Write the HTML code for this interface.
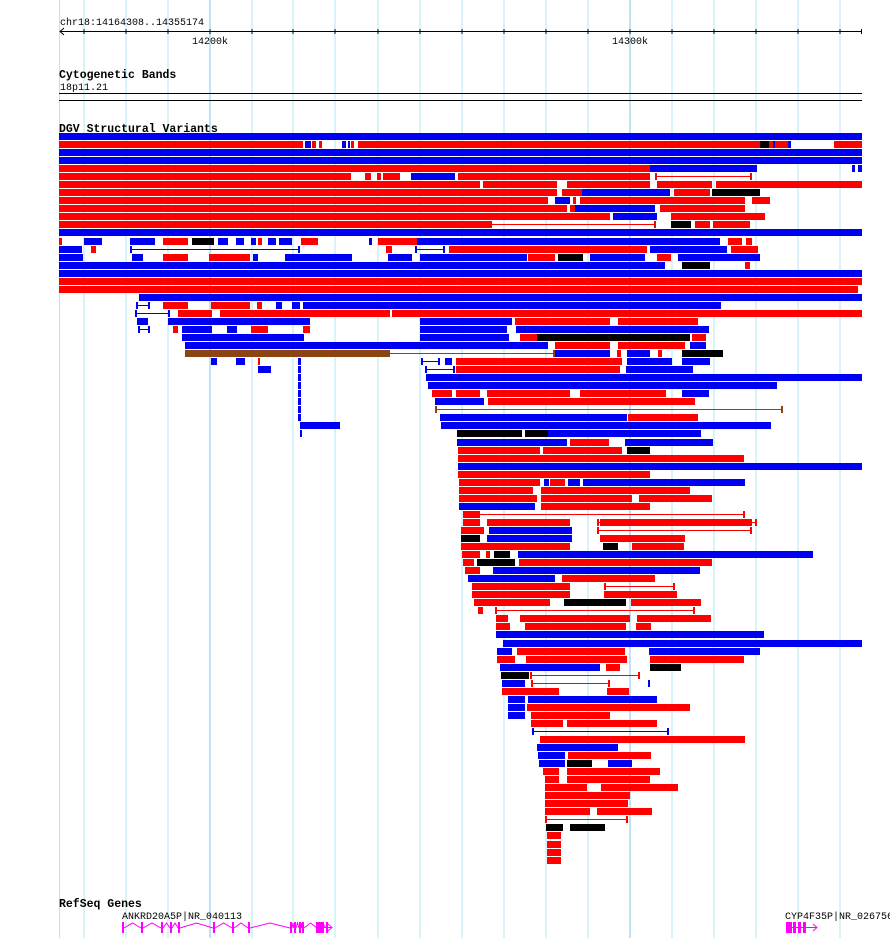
<!DOCTYPE html>
<html><head><meta charset="utf-8"><style>
html,body{margin:0;padding:0;background:#fff;width:890px;height:938px;overflow:hidden}
svg{display:block}
text{font-family:"Liberation Mono","DejaVu Sans Mono",monospace;fill:#000}
</style></head><body>
<svg id="s" width="890" height="938" xmlns="http://www.w3.org/2000/svg"></svg>
<script>
var s=document.getElementById('s'),h='';
var gx=[59.5,84,126,168,210,252,293,335,378,420,462,504,546,588,630,672,714,756,798,840];
gx.forEach(function(x){h+='<line x1="'+x+'" y1="0" x2="'+x+'" y2="938" stroke="'+((x==210||x==630)?'#80c4ec':'#b0e8f2')+'" stroke-width="1"/>';});
h+='<text x="60" y="25" font-size="10">chr18:14164308..14355174</text>';
h+='<line x1="60" y1="31.5" x2="862" y2="31.5" stroke="#000"/>';
h+='<polyline points="64,28 60,31.5 64,35" fill="none" stroke="#000"/>';
gx.slice(1).forEach(function(x){h+='<line x1="'+x+'" y1="29" x2="'+x+'" y2="34" stroke="#000"/>';});
h+='<line x1="861.5" y1="29" x2="861.5" y2="34" stroke="#000"/>';
h+='<text x="210" y="44" font-size="10" text-anchor="middle">14200k</text>';
h+='<text x="630" y="44" font-size="10" text-anchor="middle">14300k</text>';
h+='<text x="59" y="78" font-size="11.5" font-weight="bold">Cytogenetic Bands</text>';
h+='<text x="60" y="90" font-size="10">18p11.21</text>';
h+='<line x1="59" y1="93.5" x2="862" y2="93.5" stroke="#000"/><line x1="59" y1="100.5" x2="862" y2="100.5" stroke="#000"/>';
h+='<text x="59" y="132" font-size="11.5" font-weight="bold">DGV Structural Variants</text>';
var R='#f00',B='#0000f0',K='#000',N='#8b4513';
var rows=[
[[59,862,B]],
[[59,303,R],[305,311,B],[312,316,R],[319,322,R],[342,346,B],[348,350,B],[351,354,R],[358,862,R],[760,769,K],[773,775,B],[788,791,B],[791,834,'W'],[834,862,R]],
[[59,862,B]],
[[59,862,B]],
[[59,650,R],[650,757,B],[852,855,B],[858,862,B]],
[[59,351,R],[365,371,R],[377,381,R],[383,400,R],[411,455,B],[458,650,R],[655,752,'L'+R]],
[[59,480,R],[483,557,R],[567,650,R],[657,712,R],[716,862,R]],
[[59,557,R],[562,582,R],[582,670,B],[674,710,R],[712,760,K]],
[[59,548,R],[555,570,B],[573,576,R],[580,745,R],[752,770,R]],
[[59,548,R],[548,567,R],[570,575,R],[575,655,B],[660,745,R]],
[[59,548,R],[548,610,R],[613,657,B],[671,765,R]],
[[59,490,R],[490,656,'L'+R],[671,691,K],[695,710,R],[713,750,R]],
[[59,862,B]],
[[59,62,R],[84,102,B],[130,155,B],[163,188,R],[192,214,K],[218,228,B],[236,244,B],[251,256,B],[258,262,R],[268,276,B],[279,292,B],[301,318,R],[369,372,B],[378,417,R],[417,720,B],[728,742,R],[746,752,R]],
[[59,82,B],[91,96,R],[130,300,'L'+B],[386,392,R],[415,445,'L'+B],[449,647,R],[650,727,B],[731,758,R]],
[[59,83,B],[132,143,B],[163,188,R],[209,250,R],[253,258,B],[285,352,B],[388,412,B],[420,527,B],[528,555,R],[558,583,K],[590,645,B],[657,671,R],[678,760,B]],
[[59,665,B],[682,710,K],[745,750,R]],
[[59,862,B]],
[[59,862,R]],
[[59,858,R]],
[[139,862,B]],
[[136,150,'L'+B],[163,188,R],[211,250,R],[257,262,R],[276,282,B],[292,300,B],[303,721,B]],
[[135,170,'L'+B],[178,212,R],[220,390,R],[392,862,R]],
[[137,148,B],[168,310,B],[420,512,B],[515,610,R],[618,698,R]],
[[138,150,'L'+B],[173,178,R],[182,212,B],[227,237,B],[251,268,R],[303,310,R],[420,507,B],[516,709,B]],
[[182,304,B],[420,509,B],[520,537,R],[537,690,K],[692,706,R]],
[[185,548,B],[555,610,R],[618,685,R],[690,706,B]],
[[185,388,N],[388,555,'L'+N],[555,610,B],[617,621,R],[627,650,B],[658,662,R],[682,723,K]],
[[211,217,B],[236,245,B],[258,260,R],[298,301,B],[421,440,'L'+B],[445,452,B],[456,622,R],[627,672,B],[682,710,B]],
[[258,271,B],[298,301,B],[425,455,'L'+B],[456,620,R],[626,693,B]],
[[298,301,B],[426,862,B]],
[[298,301,B],[428,777,B]],
[[298,301,B],[432,452,R],[456,480,R],[487,570,R],[580,666,R],[682,709,B]],
[[298,301,B],[435,484,B],[488,695,R]],
[[298,301,B],[435,783,'L'+N]],
[[298,301,B],[440,627,B],[628,698,R]],
[[300,340,B],[441,771,B]],
[[300,302,B],[457,522,K],[525,548,K],[548,701,B]],
[[457,567,B],[570,609,R],[625,713,B]],
[[458,540,R],[543,622,R],[627,650,K]],
[[458,744,R]],
[[458,862,B]],
[[458,650,R]],
[[459,540,R],[544,549,B],[550,565,R],[568,580,B],[583,745,B]],
[[459,533,R],[541,690,R]],
[[459,537,R],[541,632,R],[639,712,R]],
[[459,535,B],[541,650,R]],
[[463,478,R],[478,745,'L'+R]],
[[463,480,R],[487,570,R],[597,757,'L'+R],[600,752,R]],
[[461,484,R],[489,572,B],[597,752,'L'+R]],
[[461,480,K],[487,572,B],[600,685,R]],
[[461,570,R],[603,618,K],[632,684,R]],
[[462,480,R],[486,490,R],[494,510,K],[518,813,B]],
[[463,474,R],[477,515,K],[519,712,R]],
[[465,480,R],[493,700,B]],
[[468,555,B],[562,655,R]],
[[472,570,R],[604,675,'L'+R]],
[[472,570,R],[604,677,R]],
[[474,550,R],[564,626,K],[631,701,R]],
[[478,483,R],[495,695,'L'+R]],
[[496,508,R],[520,630,R],[637,711,R]],
[[496,510,R],[525,626,R],[636,651,R]],
[[496,764,B]],
[[503,862,B]],
[[497,512,B],[517,625,R],[649,760,B]],
[[497,515,R],[526,627,R],[650,744,R]],
[[500,600,B],[606,620,R],[650,681,K]],
[[501,529,K],[530,640,'L'+R]],
[[502,525,B],[531,610,'L'+R],[648,650,B]],
[[502,559,R],[607,629,R]],
[[508,525,B],[528,657,B]],
[[508,525,B],[527,690,R]],
[[508,525,B],[531,610,R]],
[[531,563,R],[567,657,R]],
[[532,669,'L'+B]],
[[540,745,R]],
[[537,618,B]],
[[538,565,B],[568,651,R]],
[[539,565,B],[567,592,K],[608,632,B]],
[[543,559,R],[567,660,R]],
[[545,559,R],[567,650,R]],
[[545,587,R],[601,678,R]],
[[545,630,R]],
[[545,628,R]],
[[545,590,R],[597,652,R]],
[[545,628,'L'+R]],
[[546,563,K],[570,605,K]],
[[547,561,R]],[[547,561,R]],[[547,561,R]],[[547,561,R]]
];
rows.forEach(function(r,i){var y=Math.round(133+8.04*i);
r.forEach(function(g){var c=g[2];
if(c=='W'){h+='<rect x="'+g[0]+'" y="'+y+'" width="'+(g[1]-g[0])+'" height="7" fill="#fff"/>';return;}
if(c.charAt(0)=='L'){c=c.slice(1);
h+='<line x1="'+g[0]+'" y1="'+(y+3.5)+'" x2="'+g[1]+'" y2="'+(y+3.5)+'" stroke="'+c+'"/>';
h+='<rect x="'+g[0]+'" y="'+y+'" width="2" height="7" fill="'+c+'"/><rect x="'+(g[1]-2)+'" y="'+y+'" width="2" height="7" fill="'+c+'"/>';}
else h+='<rect x="'+g[0]+'" y="'+y+'" width="'+(g[1]-g[0])+'" height="7" fill="'+c+'"/>';});});
h+='<text x="59" y="907" font-size="11.5" font-weight="bold">RefSeq Genes</text>';
h+='<text x="122" y="919" font-size="10">ANKRD20A5P|NR_040113</text>';
h+='<text x="785" y="919" font-size="10">CYP4F35P|NR_026756</text>';
var M='#f0f';
var ex=[122,141,161,170,178,213,232,248,290,294,299,302,317,326];
var p='';for(var i=0;i<ex.length-1;i++){var a=ex[i]+2,b=ex[i+1];p+='M'+a+',928 L'+((a+b)/2)+',923 L'+b+',928 ';}
h+='<path d="'+p+'" fill="none" stroke="'+M+'"/>';
ex.forEach(function(x){h+='<rect x="'+x+'" y="922" width="2" height="11" fill="'+M+'"/>';});
h+='<rect x="316" y="922" width="8" height="11" fill="'+M+'"/><line x1="324" y1="927.5" x2="332" y2="927.5" stroke="'+M+'"/><polyline points="328,924 332,927.5 328,931" fill="none" stroke="'+M+'"/>';
h+='<rect x="786" y="922" width="6" height="11" fill="'+M+'"/><rect x="793" y="922" width="3" height="11" fill="'+M+'"/><rect x="798" y="922" width="3" height="11" fill="'+M+'"/><rect x="803" y="922" width="3" height="11" fill="'+M+'"/><line x1="786" y1="927.5" x2="817" y2="927.5" stroke="'+M+'"/><polyline points="813,924 817,927.5 813,931" fill="none" stroke="'+M+'"/>';
s.innerHTML=h;
</script>
</body></html>
